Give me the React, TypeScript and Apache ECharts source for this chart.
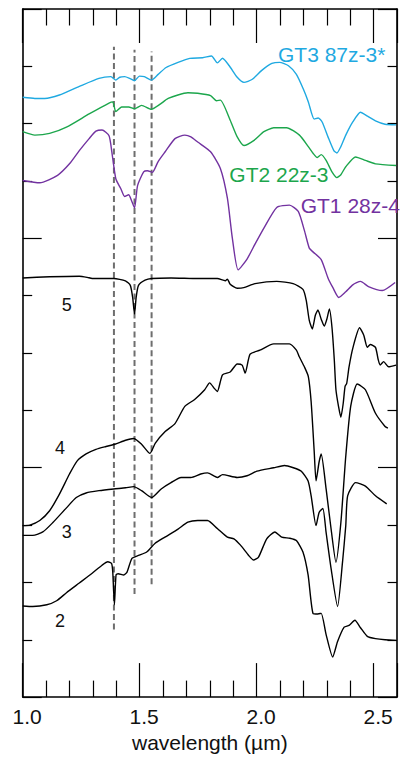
import React, { useEffect, useRef } from "react";
import * as echarts from "echarts";

// Offset reflectance spectra, [wavelength (µm), offset reflectance]
const gt3Spectrum: number[][] = [
  [1.0, 10.46], [1.052, 10.44], [1.094, 10.44], [1.157, 10.5], [1.242, 10.65], [1.326, 10.79],
  [1.377, 10.82], [1.398, 10.76], [1.415, 10.81], [1.436, 10.82], [1.457, 10.79], [1.478, 10.75],
  [1.499, 10.83], [1.52, 10.82], [1.55, 10.76], [1.579, 10.86], [1.613, 10.98], [1.664, 11.07],
  [1.714, 11.14], [1.769, 11.15], [1.807, 11.18], [1.832, 11.06], [1.854, 11.14], [1.883, 11.01],
  [1.917, 10.81], [1.946, 10.72], [1.98, 10.77], [2.022, 10.93], [2.065, 11.05], [2.098, 11.07],
  [2.136, 11.01], [2.17, 10.86], [2.2, 10.6], [2.221, 10.38], [2.246, 10.08], [2.263, 10.1],
  [2.28, 10.03], [2.305, 9.77], [2.33, 9.53], [2.343, 9.49], [2.36, 9.6], [2.381, 9.8],
  [2.411, 10.03], [2.444, 10.2], [2.474, 10.13], [2.508, 10.05], [2.549, 9.99], [2.596, 9.98],
];

const gt2Spectrum: number[][] = [
  [1.0, 9.86], [1.052, 9.8], [1.115, 9.83], [1.187, 9.94], [1.284, 10.17], [1.369, 10.36],
  [1.385, 10.38], [1.398, 10.21], [1.423, 10.29], [1.453, 10.29], [1.478, 10.26], [1.508, 10.32],
  [1.55, 10.25], [1.588, 10.34], [1.622, 10.44], [1.706, 10.54], [1.748, 10.53], [1.803, 10.49],
  [1.828, 10.4], [1.845, 10.41], [1.887, 10.06], [1.917, 9.77], [1.946, 9.62], [1.989, 9.71],
  [2.031, 9.86], [2.073, 9.93], [2.128, 9.93], [2.183, 9.8], [2.221, 9.6], [2.242, 9.48],
  [2.259, 9.41], [2.276, 9.46], [2.297, 9.36], [2.322, 9.16], [2.343, 9.06], [2.36, 9.11],
  [2.381, 9.25], [2.423, 9.42], [2.465, 9.36], [2.508, 9.3], [2.596, 9.27],
];

const gt1Spectrum: number[][] = [
  [1.0, 9.01], [1.073, 8.97], [1.149, 9.1], [1.2, 9.3], [1.242, 9.53], [1.284, 9.74],
  [1.313, 9.87], [1.339, 9.89], [1.369, 9.79], [1.381, 9.51], [1.398, 9.04], [1.419, 8.87],
  [1.436, 8.73], [1.453, 8.76], [1.465, 8.66], [1.478, 8.53], [1.491, 8.92], [1.517, 9.16],
  [1.533, 9.18], [1.554, 9.15], [1.579, 9.34], [1.609, 9.51], [1.651, 9.74], [1.693, 9.8],
  [1.719, 9.77], [1.748, 9.68], [1.803, 9.51], [1.845, 9.22], [1.875, 8.7], [1.896, 8.01],
  [1.921, 7.45], [1.959, 7.64], [1.993, 7.9], [2.031, 8.18], [2.086, 8.54], [2.14, 8.58],
  [2.178, 8.47], [2.204, 8.14], [2.225, 7.83], [2.242, 7.76], [2.276, 7.63], [2.305, 7.31],
  [2.326, 7.14], [2.351, 6.97], [2.381, 7.07], [2.411, 7.19], [2.444, 7.25], [2.478, 7.16],
  [2.537, 7.09], [2.592, 7.23],
];

const sample5: number[][] = [
  [1.0, 7.31], [1.115, 7.33], [1.242, 7.34], [1.276, 7.32], [1.297, 7.3], [1.389, 7.3],
  [1.439, 7.26], [1.46, 7.18], [1.47, 6.97], [1.478, 6.68], [1.485, 6.97], [1.495, 7.18],
  [1.523, 7.27], [1.551, 7.3], [1.634, 7.31], [1.748, 7.3], [1.832, 7.3], [1.866, 7.26],
  [1.875, 7.29], [1.887, 7.2], [1.917, 7.13], [1.945, 7.14], [1.993, 7.21], [2.086, 7.25],
  [2.156, 7.21], [2.198, 7.11], [2.212, 6.92], [2.225, 6.57], [2.238, 6.42], [2.251, 6.66],
  [2.262, 6.75], [2.276, 6.59], [2.289, 6.47], [2.3, 6.59], [2.311, 6.77], [2.322, 6.45],
  [2.332, 5.88], [2.339, 5.36], [2.35, 5.07], [2.36, 4.88], [2.37, 5.12], [2.378, 5.42],
  [2.385, 5.47], [2.395, 5.76], [2.412, 6.1], [2.44, 6.44], [2.458, 6.31], [2.473, 6.1],
  [2.486, 6.15], [2.508, 6.1], [2.52, 5.88], [2.528, 5.79], [2.543, 5.85], [2.564, 5.76],
  [2.596, 5.79],
];

const sample4: number[][] = [
  [1.0, 2.99], [1.031, 3.0], [1.073, 3.08], [1.115, 3.25], [1.157, 3.54], [1.2, 3.89],
  [1.233, 4.12], [1.271, 4.24], [1.313, 4.32], [1.356, 4.37], [1.394, 4.41], [1.44, 4.48],
  [1.474, 4.51], [1.508, 4.41], [1.544, 4.25], [1.567, 4.43], [1.609, 4.63], [1.651, 4.77],
  [1.693, 5.07], [1.735, 5.19], [1.778, 5.36], [1.799, 5.48], [1.82, 5.38], [1.832, 5.33],
  [1.854, 5.62], [1.887, 5.67], [1.917, 5.81], [1.938, 5.79], [1.951, 5.65], [1.972, 5.98],
  [2.014, 6.05], [2.073, 6.16], [2.14, 6.16], [2.17, 6.05], [2.183, 5.93], [2.204, 5.76],
  [2.221, 5.59], [2.233, 5.15], [2.246, 4.29], [2.254, 3.77], [2.267, 4.1], [2.276, 4.24],
  [2.297, 3.63], [2.318, 2.94], [2.339, 2.35], [2.36, 3.04], [2.381, 4.2], [2.402, 5.07],
  [2.43, 5.46], [2.465, 5.36], [2.508, 4.95], [2.549, 4.72], [2.561, 4.69],
];

const sample3: number[][] = [
  [1.0, 2.82], [1.043, 2.82], [1.086, 2.88], [1.128, 3.04], [1.187, 3.3], [1.229, 3.48],
  [1.271, 3.56], [1.326, 3.6], [1.389, 3.63], [1.44, 3.65], [1.474, 3.67], [1.508, 3.6],
  [1.551, 3.48], [1.592, 3.63], [1.634, 3.74], [1.677, 3.83], [1.719, 3.83], [1.761, 3.89],
  [1.79, 3.91], [1.832, 3.83], [1.854, 3.88], [1.917, 3.83], [1.959, 3.86], [2.001, 3.94],
  [2.073, 4.0], [2.119, 4.04], [2.157, 4.0], [2.191, 3.94], [2.22, 3.77], [2.233, 3.51],
  [2.254, 2.99], [2.267, 3.22], [2.283, 3.29], [2.297, 2.87], [2.318, 2.25], [2.346, 1.58],
  [2.367, 2.35], [2.381, 2.99], [2.389, 3.51], [2.423, 3.74], [2.465, 3.68], [2.508, 3.51],
  [2.556, 3.37],
];

const sample2: number[][] = [
  [1.0, 1.59], [1.043, 1.58], [1.103, 1.61], [1.145, 1.68], [1.187, 1.82], [1.242, 1.99],
  [1.297, 2.16], [1.339, 2.3], [1.364, 2.36], [1.38, 2.33], [1.385, 2.18], [1.392, 1.61],
  [1.399, 2.13], [1.408, 2.15], [1.432, 2.13], [1.446, 2.18], [1.467, 2.42], [1.495, 2.47],
  [1.53, 2.53], [1.565, 2.68], [1.608, 2.79], [1.664, 2.93], [1.706, 3.05], [1.748, 3.08],
  [1.79, 3.08], [1.832, 2.94], [1.875, 2.79], [1.903, 2.76], [1.931, 2.65], [1.966, 2.47],
  [1.987, 2.39], [2.008, 2.44], [2.043, 2.76], [2.078, 2.88], [2.107, 2.79], [2.142, 2.77],
  [2.17, 2.73], [2.198, 2.53], [2.22, 2.13], [2.241, 1.46], [2.262, 1.45], [2.276, 1.46],
  [2.297, 1.09], [2.325, 0.7], [2.346, 0.97], [2.374, 1.22], [2.395, 1.25], [2.42, 1.34],
  [2.444, 1.21], [2.473, 1.06], [2.508, 1.02], [2.549, 1.0], [2.596, 0.99],
];

// Absorption band guides: wavelength and vertical extent
const bandWavelengths = [1.39, 1.478, 1.551];
const bandTops = [11.34, 11.29, 11.26];
const bandBottoms = [1.18, 1.8, 1.97];

const xTickLabels = ["1.0", "1.5", "2.0", "2.5"];
const xAxisTitle = "wavelength (µm)";

const spectraNames = ["GT3 87z-3*", "GT2 22z-3", "GT1 28z-4", "5", "4", "3", "2"];
const spectraColors = ["#1fa9e1", "#1ca64c", "#7232a0", "#000", "#000", "#000", "#000"];

const FONT = '"Liberation Sans", Arial, Helvetica, sans-serif';

export default function App() {
  const ref = useRef<HTMLDivElement>(null);

  useEffect(() => {
    document.body.style.margin = "0";
    document.body.style.overflow = "hidden";
    if (!ref.current) return;
    const chart = echarts.init(ref.current, undefined, { renderer: "svg" });

    const axisLine = { show: true, onZero: false, lineStyle: { color: "#000", width: 1.6 } };

    const xAxisBase = {
      type: "value" as const,
      min: 1.0,
      max: 2.6,
      interval: 0.5,
      axisLine,
      axisTick: { show: true, inside: true, length: 34, lineStyle: { color: "#000", width: 1.2 } },
      minorTick: { show: true, splitNumber: 5, length: 16.5, lineStyle: { color: "#000", width: 1.2 } },
      splitLine: { show: false },
      minorSplitLine: { show: false },
    };

    const yAxisBase = {
      type: "value" as const,
      min: 0,
      max: 12,
      interval: 4,
      axisLine,
      axisTick: { show: true, inside: true, length: 19, lineStyle: { color: "#000", width: 1.2 } },
      minorTick: { show: true, splitNumber: 4, length: 9.5, lineStyle: { color: "#000", width: 1.2 } },
      axisLabel: { show: false },
      splitLine: { show: false },
      minorSplitLine: { show: false },
    };

    const spectra = [gt3Spectrum, gt2Spectrum, gt1Spectrum, sample5, sample4, sample3, sample2];

    const bandSeries = bandWavelengths.map((w, i) => ({
      type: "line" as const,
      name: "band" + i,
      data: [
        [w, bandBottoms[i]],
        [w, bandTops[i]],
      ],
      showSymbol: false,
      silent: true,
      z: 1,
      lineStyle: { color: "#6e6e6e", width: 2, type: [6, 3.5] },
    }));

    const spectraSeries = spectra.map((d, i) => ({
      type: "line" as const,
      name: spectraNames[i],
      data: d,
      showSymbol: false,
      smooth: 0.2,
      z: 3,
      lineStyle: { color: spectraColors[i], width: 1.4 },
    }));

    const label = (text: string, x: number, y: number, color: string, size: number, align: string) => ({
      type: "text",
      x,
      y,
      silent: true,
      z: 10,
      style: {
        text,
        fill: color,
        font: `${size}px ${FONT}`,
        align,
        verticalAlign: "middle",
        textAlign: align,
        textVerticalAlign: "middle",
      },
    });

    chart.setOption({
      animation: false,
      backgroundColor: "#fff",
      grid: { left: 22.7, right: -1.9, top: 9, bottom: 54.7, containLabel: false },
      xAxis: [
        {
          ...xAxisBase,
          position: "bottom",
          axisLabel: {
            show: true,
            color: "#111",
            fontSize: 21,
            fontFamily: FONT,
            margin: 9,
            padding: [0, 0, 0, 9],
            formatter: (v: number) => {
              const s = v.toFixed(1);
              return xTickLabels.includes(s) ? s : "";
            },
          },
          name: xAxisTitle,
          nameLocation: "middle",
          nameGap: 31,
          nameTextStyle: { color: "#111", fontSize: 21, fontFamily: FONT },
        },
        { ...xAxisBase, position: "top", axisLabel: { show: false } },
      ],
      yAxis: [
        { ...yAxisBase, position: "left" },
        { ...yAxisBase, position: "right" },
      ],
      series: [...bandSeries, ...spectraSeries],
      graphic: [
        label(spectraNames[0], 278, 54, spectraColors[0], 21, "left"),
        label(spectraNames[1], 229.3, 174.7, spectraColors[1], 21, "left"),
        label(spectraNames[2], 300.7, 205.5, spectraColors[2], 21, "left"),
        label(spectraNames[3], 66.7, 305, "#111", 18, "center"),
        label(spectraNames[4], 60, 447.5, "#111", 18, "center"),
        label(spectraNames[5], 66.7, 531.7, "#111", 18, "center"),
        label(spectraNames[6], 60, 620.5, "#111", 18, "center"),
      ],
    });

    return () => chart.dispose();
  }, []);

  return <div ref={ref} style={{ width: 400, height: 758 }} />;
}
